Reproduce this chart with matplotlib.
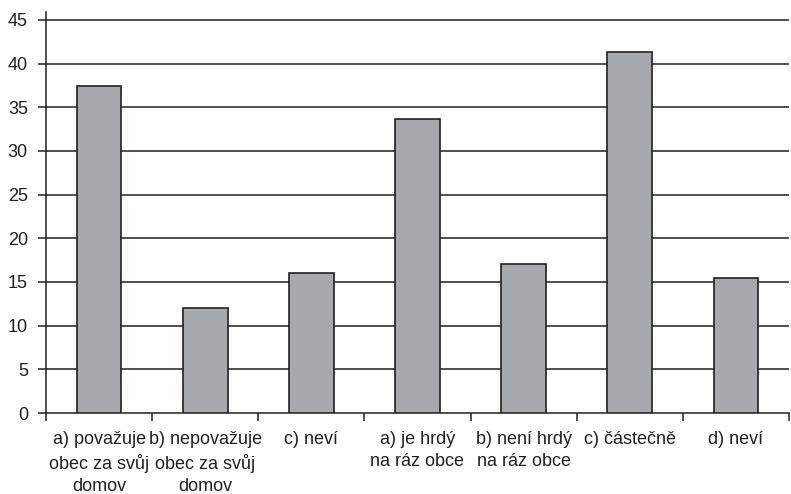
import matplotlib
matplotlib.use("Agg")
import matplotlib.pyplot as plt
import numpy as np

labels = [
    "a) považuje\nobec za svůj\ndomov",
    "b) nepovažuje\nobec za svůj\ndomov",
    "c) neví",
    "a) je hrdý\nna ráz obce",
    "b) není hrdý\nna ráz obce",
    "c) částečně",
    "d) neví",
]
values = [37.4, 12.0, 16.0, 33.7, 17.0, 41.3, 15.4]
yticks = [0, 5, 10, 15, 20, 25, 30, 35, 40, 45]

plt.rcParams["font.family"] = ["Liberation Sans", "DejaVu Sans"]
ink = "#231f20"

fig = plt.figure(figsize=(7.91, 4.94), dpi=100)
ax = fig.add_axes([46 / 791, 1 - 413 / 494, (789 - 46) / 791, (413 - 12) / 494])

x = np.arange(len(values))
ax.bar(x, values, width=0.42, color="#a7a9ac", edgecolor=ink, linewidth=1.2, zorder=3)

ax.set_xlim(-0.5, len(values) - 0.5)
ax.set_ylim(0, 45.9)
ax.set_yticks(yticks)
for y in yticks[1:]:
    ax.axhline(y, color=ink, linewidth=1.1, zorder=1)

ax.set_xticks(x)
ax.set_xticklabels(labels, linespacing=1.4, fontsize=13, color=ink)
ax.set_xticks(np.arange(-0.5, len(values)), minor=True)
ax.tick_params(axis="x", which="major", length=0, pad=13)
ax.tick_params(axis="x", which="minor", length=6, width=1.1, color=ink, direction="out")
ax.tick_params(axis="y", length=6, width=1.1, color=ink, direction="out", pad=7,
               labelsize=13, labelcolor=ink)

for side in ["top", "right"]:
    ax.spines[side].set_visible(False)
for side in ["left", "bottom"]:
    ax.spines[side].set_color(ink)
    ax.spines[side].set_linewidth(1.1)

fig.savefig("out.png", dpi=100)
